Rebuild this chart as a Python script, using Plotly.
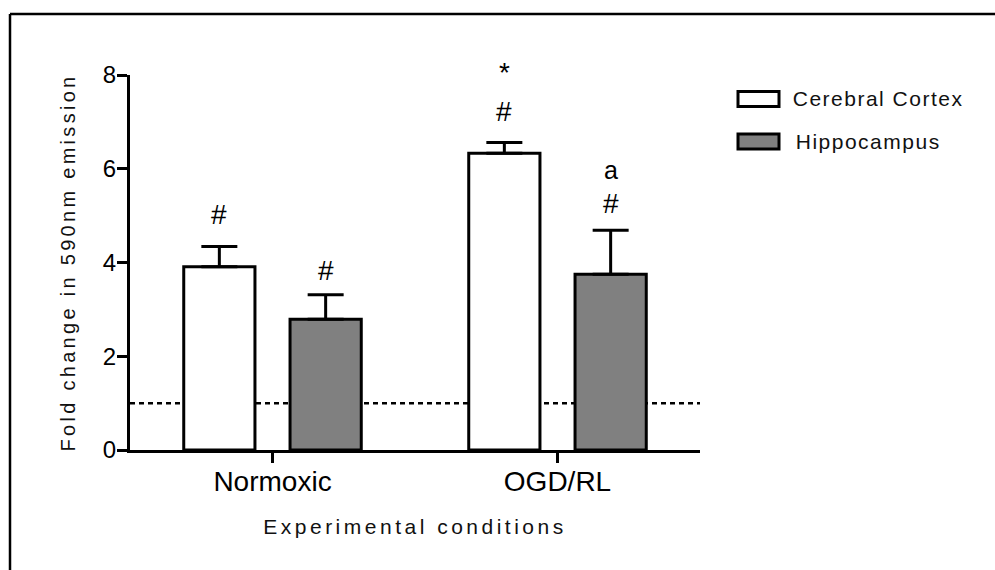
import plotly.graph_objects as go

# ---- data ----
conditions = ["Normoxic", "OGD/RL"]
series_names = ["Cerebral Cortex", "Hippocampus"]
cortex_mean = [3.91, 6.33]
cortex_sem = [0.43, 0.23]
hippo_mean = [2.79, 3.75]
hippo_sem = [0.52, 0.94]
baseline = 1.0
# significance marks: (condition index, series index, label stack bottom->top)
marks = [
    (0, 0, ["#"]),
    (0, 1, ["#"]),
    (1, 0, ["#", "*"]),
    (1, 1, ["#", "a"]),
]

# ---- style ----
FONT = "Liberation Sans, Arial, Helvetica, sans-serif"
colors = ["#ffffff", "#808080"]
BAR_OFFSET = 0.187  # half distance between grouped bars (category units)
mark_gap = {(0, 0): 32, (0, 1): 24, (1, 0): 31, (1, 1): 27}
stack_step = {"*": 39, "a": 33}

fig = go.Figure()
for name, mean, sem, col in zip(series_names, [cortex_mean, hippo_mean],
                                [cortex_sem, hippo_sem], colors):
    fig.add_trace(go.Bar(
        x=conditions, y=mean, name=name,
        marker=dict(color=col, line=dict(color="black", width=3)),
        error_y=dict(type="data", array=sem, arrayminus=[0] * len(sem),
                     symmetric=False, color="black", thickness=3, width=18),
        showlegend=False,
    ))

# dashed baseline
fig.add_shape(type="line", xref="paper", x0=0, x1=1, yref="y", y0=baseline, y1=baseline,
              line=dict(color="black", width=2.5, dash="5px,4px"), layer="below")

# significance annotations
means = [cortex_mean, hippo_mean]
sems = [cortex_sem, hippo_sem]
for ci, si, labels in marks:
    xpos = ci + (-BAR_OFFSET if si == 0 else BAR_OFFSET)
    top = means[si][ci] + sems[si][ci]
    shift = mark_gap[(ci, si)]
    for k, lab in enumerate(labels):
        if k > 0:
            shift += stack_step[lab]
        fig.add_annotation(x=xpos, y=top, xref="x", yref="y", text=lab,
                           showarrow=False, yanchor="middle", yshift=shift,
                           font=dict(family=FONT, size=28 if lab != "a" else 25, color="black"))

# manual legend (GraphPad-style wide swatches)
W, H = 995, 570
L, R, T, B = 130, 295, 75, 120
pw, ph = W - L - R, H - T - B
def px(x):
    return (x - L) / pw
def py(y):
    return (H - B - y) / ph

legend_y = [99, 141.5]
for name, col, yc in zip(series_names, colors, legend_y):
    fig.add_shape(type="rect", xref="paper", yref="paper",
                  x0=px(738), x1=px(779), y0=py(yc - 7.5), y1=py(yc + 7.5),
                  line=dict(color="black", width=3), fillcolor=col)
    fig.add_annotation(xref="paper", yref="paper", x=px(802), y=py(yc), text=name,
                       xanchor="left", yanchor="middle", showarrow=False,
                       font=dict(family=FONT, size=21, color="#111111"))

# frame lines (top and left edge of the figure border)
fig.add_shape(type="line", xref="paper", yref="paper", x0=px(10), x1=px(995),
              y0=py(14), y1=py(14), line=dict(color="black", width=2.5))
fig.add_shape(type="line", xref="paper", yref="paper", x0=px(10), x1=px(10),
              y0=py(14), y1=py(570), line=dict(color="black", width=2.5))

fig.update_layout(
    width=W, height=H,
    margin=dict(l=L, r=R, t=T, b=B, autoexpand=False),
    paper_bgcolor="white", plot_bgcolor="white",
    barmode="group", bargap=0.254, bargroupgap=0.33,
    font=dict(family=FONT, color="black"),
    xaxis=dict(
        type="category", range=[-0.5, 1.5],
        showline=True, linecolor="black", linewidth=3,
        ticks="outside", ticklen=10, tickwidth=3, tickcolor="black",
        tickfont=dict(family=FONT, size=28, color="black"),
        ticklabelstandoff=-6,
        showgrid=False, zeroline=False,
        title=dict(text="Experimental conditions", standoff=24,
                   font=dict(family=FONT, size=21, color="#111111")),
    ),
    yaxis=dict(
        range=[0, 8], tickvals=[0, 2, 4, 6, 8],
        showline=True, linecolor="black", linewidth=3,
        ticks="outside", ticklen=10, tickwidth=3, tickcolor="black",
        tickfont=dict(family=FONT, size=24, color="black"),
        ticklabelstandoff=-4,
        showgrid=False, zeroline=False,
        title=dict(text="Fold change in 590nm emission", standoff=22,
                   font=dict(family=FONT, size=20, color="#111111")),
    ),
)

post = """
document.querySelectorAll('.xtitle').forEach(function(e){e.style.letterSpacing='3.5px';});
document.querySelectorAll('.ytitle').forEach(function(e){e.style.letterSpacing='3.3px';});
document.querySelectorAll('.annotation-text').forEach(function(e){
  if (e.textContent.length > 2) { e.style.letterSpacing = '1.5px'; }
});
"""

fig.write_html("out.html", post_script=post)
